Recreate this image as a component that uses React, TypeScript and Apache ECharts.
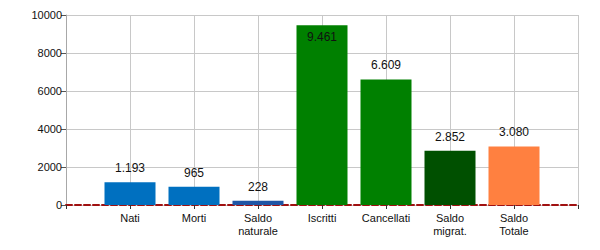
import React, { useEffect, useRef } from "react";
import * as echarts from "echarts";

const categories = ["", "Nati", "Morti", "Saldo\nnaturale", "Iscritti", "Cancellati", "Saldo\nmigrat.", "Saldo\nTotale", ""];
const values = [null, 1193, 965, 228, 9461, 6609, 2852, 3080, null];
const barColors = ["#0070C0", "#0070C0", "#0070C0", "#1F55A5", "#008000", "#008000", "#005000", "#FF8040", "#0070C0"];
const yTicks = { min: 0, max: 10000, interval: 2000 };

const fmt = (v: number) => String(v).replace(/\B(?=(\d{3})+(?!\d))/g, ".");

export default function App() {
  const ref = useRef<HTMLDivElement>(null);
  useEffect(() => {
    const chart = echarts.init(ref.current!, null, { renderer: "svg" });
    const data = values.map((v, i) => {
      if (v === null) return null;
      const inside = v > 9000;
      return {
        value: v,
        itemStyle: { color: barColors[i] },
        label: inside
          ? { position: "insideTop", distance: 6, color: "#111" }
          : { position: "top", distance: 8, color: "#111" },
      };
    });
    chart.setOption({
      animation: false,
      grid: { left: 66, right: 22, top: 15, bottom: 45 },
      xAxis: {
        type: "category",
        data: categories,
        boundaryGap: false,
        axisLine: { lineStyle: { color: "#A01010", type: [6, 3], width: 2 } },
        axisTick: { show: true, length: 4, lineStyle: { color: "#333" }, interval: 0 },
        axisLabel: { interval: 0, color: "#111", fontSize: 11, fontFamily: "Liberation Sans", lineHeight: 13, margin: 6 },
        splitLine: { show: true, interval: 0, lineStyle: { color: "#C8C8C8" } },
      },
      yAxis: {
        type: "value",
        min: yTicks.min,
        max: yTicks.max,
        interval: yTicks.interval,
        axisLine: { show: true, lineStyle: { color: "#A8A8A8" } },
        axisTick: { show: true, length: 5, lineStyle: { color: "#555" } },
        axisLabel: { color: "#111", fontSize: 11, fontFamily: "Liberation Sans", margin: 4, formatter: (v: number) => String(v) },
        splitLine: { lineStyle: { color: "#C8C8C8" } },
      },
      series: [
        {
          type: "bar",
          data,
          barWidth: 51,
          label: {
            show: true,
            fontSize: 12,
            fontFamily: "Liberation Sans",
            formatter: (p: any) => fmt(p.value),
          },
        },
      ],
    });
    return () => chart.dispose();
  }, []);
  return <div ref={ref} style={{ position: "fixed", left: 0, top: 0, width: 600, height: 250, background: "#fff" }} />;
}
